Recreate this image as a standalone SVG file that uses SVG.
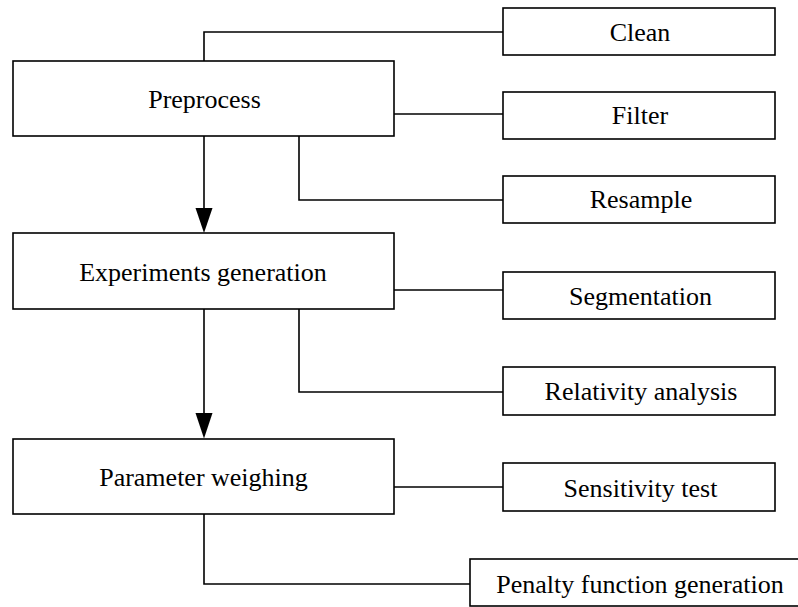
<svg xmlns="http://www.w3.org/2000/svg" width="798" height="607" viewBox="0 0 798 607">
<style>
.box{fill:#fff;stroke:#000;stroke-width:1.6}
.ln{fill:none;stroke:#000;stroke-width:1.6}
.t{font-family:'Liberation Serif',serif;font-size:26px;fill:#000;text-anchor:middle}
</style>
<rect width="798" height="607" fill="#fff"/>
<g id="connectors">
<path class="ln" d="M204,61 V32 H503"/>
<path class="ln" d="M394,114 H503"/>
<path class="ln" d="M299,136 V200 H503"/>
<path class="ln" d="M394,290 H503"/>
<path class="ln" d="M299,309 V392 H503"/>
<path class="ln" d="M394,487 H503"/>
<path class="ln" d="M204,514 V584 H470"/>
<path class="ln" d="M204,136 V210"/>
<path d="M195.5,208 L212.5,208 L204,233 Z" fill="#000"/>
<path class="ln" d="M204,309 V415"/>
<path d="M195.5,413 L212.5,413 L204,438.5 Z" fill="#000"/>
</g>
<g style="font-family:'Liberation Serif',serif">
<g id="preprocess"><rect class="box" x="13" y="61" width="381" height="75"/><text class="t" x="204.5" y="107.5">Preprocess</text></g>
<g id="clean"><rect class="box" x="503" y="8" width="272" height="47"/><text class="t" x="640" y="41">Clean</text></g>
<g id="filter"><rect class="box" x="503" y="92" width="272" height="47"/><text class="t" x="640" y="124">Filter</text></g>
<g id="resample"><rect class="box" x="503" y="176" width="272" height="47"/><text class="t" x="641" y="208">Resample</text></g>
<g id="experiments"><rect class="box" x="13" y="233" width="381" height="76"/><text class="t" x="203" y="281">Experiments generation</text></g>
<g id="segmentation"><rect class="box" x="503" y="272" width="272" height="47"/><text class="t" x="640.5" y="305">Segmentation</text></g>
<g id="relativity"><rect class="box" x="503" y="367" width="272" height="48"/><text class="t" x="641" y="400">Relativity analysis</text></g>
<g id="parameter"><rect class="box" x="13" y="439" width="381" height="75"/><text class="t" x="203.5" y="486">Parameter weighing</text></g>
<g id="sensitivity"><rect class="box" x="503" y="463" width="272" height="48"/><text class="t" x="640.5" y="497">Sensitivity test</text></g>
<g id="penalty"><rect class="box" x="470" y="559" width="340" height="47"/><text class="t" x="640" y="593">Penalty function generation</text></g>
</g>
</svg>
